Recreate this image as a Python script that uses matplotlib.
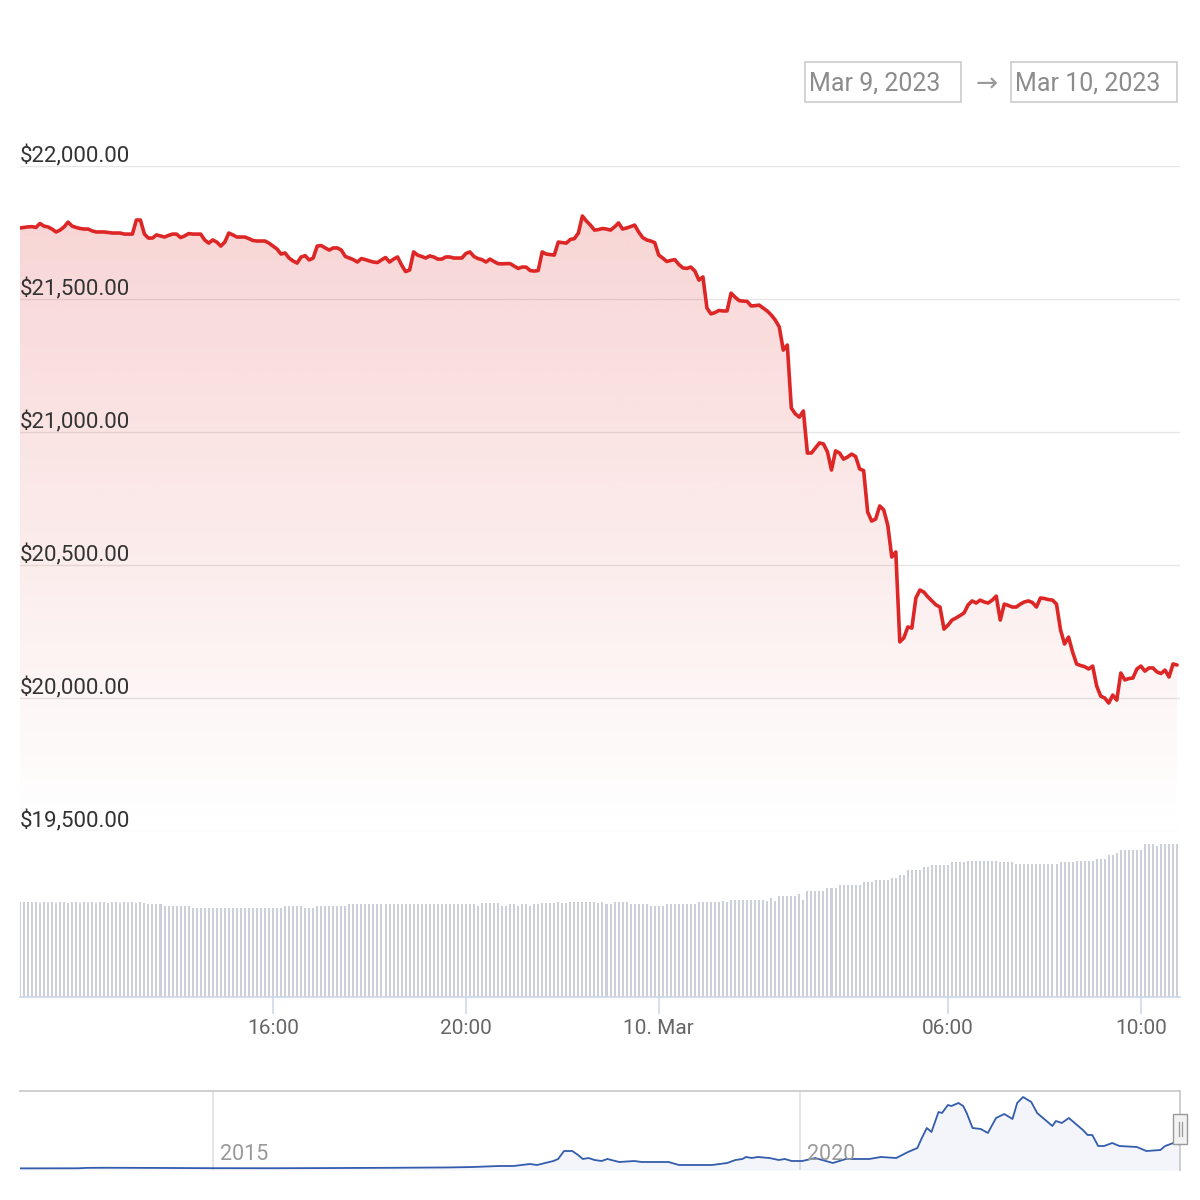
import matplotlib
matplotlib.use('Agg')
import matplotlib.pyplot as plt
import matplotlib.dates as mdates
from matplotlib.patches import Rectangle, Polygon
from matplotlib.lines import Line2D
import numpy as np
import pandas as pd

plt.rcParams['font.family'] = ['Roboto', 'DejaVu Sans']

# ---------------- data ----------------
start_time = '2023-03-09 10:45'
price = [
    21767, 21769, 21771, 21772, 21769, 21784, 21774, 21771, 21763, 21752,
    21759, 21771, 21789, 21774, 21769, 21765, 21763, 21763, 21756, 21752,
    21752, 21752, 21750, 21748, 21748, 21748, 21744, 21744, 21744, 21797,
    21797, 21744, 21729, 21729, 21741, 21737, 21733, 21739, 21744, 21744,
    21731, 21737, 21746, 21744, 21744, 21744, 21722, 21710, 21722, 21714,
    21699, 21714, 21748, 21741, 21733, 21733, 21733, 21727, 21720, 21718,
    21718, 21718, 21710, 21699, 21688, 21669, 21673, 21654, 21643, 21635,
    21658, 21663, 21647, 21654, 21699, 21701, 21692, 21684, 21692, 21692,
    21684, 21660, 21654, 21648, 21639, 21652, 21648, 21643, 21639, 21637,
    21647, 21656, 21639, 21650, 21658, 21628, 21603, 21609, 21677, 21665,
    21660, 21654, 21662, 21658, 21650, 21650, 21658, 21658, 21654, 21654,
    21654, 21671, 21677, 21660, 21652, 21648, 21639, 21650, 21641, 21633,
    21632, 21633, 21633, 21624, 21615, 21620, 21620, 21607, 21605, 21607,
    21677, 21669, 21667, 21665, 21714, 21712, 21710, 21724, 21727, 21748,
    21812, 21793, 21778, 21759, 21761, 21765, 21763, 21759, 21771, 21786,
    21763, 21767, 21772, 21778, 21752, 21731, 21722, 21718, 21712, 21665,
    21654, 21641, 21645, 21648, 21630, 21617, 21615, 21620, 21605, 21571,
    21583, 21466, 21444, 21449, 21457, 21455, 21455, 21522, 21507, 21494,
    21492, 21491, 21474, 21475, 21477, 21466, 21455, 21440, 21421, 21395,
    21308, 21327, 21090, 21068, 21056, 21079, 20921, 20921, 20940, 20959,
    20955, 20925, 20857, 20929, 20921, 20898, 20906, 20917, 20908, 20861,
    20855, 20699, 20665, 20673, 20722, 20707, 20650, 20530, 20549, 20211,
    20226, 20267, 20263, 20376, 20406, 20398, 20380, 20365, 20350, 20342,
    20259, 20274, 20293, 20301, 20310, 20320, 20350, 20365, 20357, 20368,
    20361, 20357, 20368, 20383, 20293, 20353, 20348, 20342, 20342, 20353,
    20361, 20365, 20359, 20342, 20376, 20374, 20370, 20368, 20353, 20256,
    20203, 20229, 20173, 20128, 20122, 20118, 20109, 20120, 20045, 20007,
    20000, 19981, 20011, 19992, 20094, 20068, 20073, 20075, 20109, 20120,
    20101, 20113, 20113, 20098, 20092, 20105, 20079, 20128, 20124,
]
volume = [
    28.6, 28.6, 28.4, 28.6, 28.6, 28.1, 28.6, 28.4, 28.6, 28.1,
    28.6, 28.4, 28.1, 28.6, 28.6, 28.1, 28.6, 28.6, 28.4, 28.1,
    28.6, 28.6, 28.1, 28.6, 28.4, 28.1, 28.6, 28.6, 28.4, 28.1,
    28.4, 28.1, 28.0, 28.0, 28.0, 28.0, 27.2, 27.2, 27.2, 27.2,
    27.2, 27.2, 27.2, 26.6, 26.6, 26.6, 26.6, 26.6, 26.6, 26.6,
    26.6, 26.6, 26.6, 26.6, 26.6, 26.6, 26.6, 26.6, 26.6, 26.6,
    26.6, 26.6, 26.6, 26.6, 26.6, 26.6, 27.2, 27.2, 27.2, 27.2,
    27.2, 26.7, 26.7, 26.7, 27.3, 27.3, 27.3, 27.3, 27.3, 27.3,
    27.3, 27.3, 27.8, 27.8, 27.8, 27.8, 27.8, 27.8, 27.8, 27.8,
    28.0, 28.0, 28.0, 28.0, 28.0, 28.0, 28.0, 28.0, 28.0, 28.0,
    28.0, 28.0, 28.0, 28.0, 28.0, 28.0, 28.0, 28.0, 28.0, 28.0,
    28.0, 28.0, 28.0, 28.0, 27.3, 28.1, 28.1, 28.1, 28.1, 28.1,
    27.3, 27.3, 27.9, 27.9, 27.3, 27.9, 27.9, 27.3, 27.9, 27.9,
    28.2, 28.2, 28.2, 28.2, 28.6, 28.2, 28.2, 28.6, 28.4, 28.6,
    28.6, 28.6, 28.6, 28.6, 28.2, 28.6, 27.9, 27.9, 28.6, 28.6,
    28.6, 28.6, 27.9, 27.9, 27.9, 27.9, 27.9, 27.3, 27.3, 27.3,
    27.3, 27.9, 27.9, 27.9, 27.9, 27.9, 27.9, 27.9, 27.9, 28.5,
    28.5, 28.5, 28.5, 28.5, 28.5, 28.8, 28.4, 29.1, 29.1, 29.1,
    29.1, 29.1, 29.1, 29.1, 29.1, 29.1, 28.9, 29.6, 28.9, 30.3,
    30.3, 30.3, 30.3, 30.3, 30.9, 29.1, 31.9, 31.9, 31.9, 31.9,
    31.9, 32.6, 32.6, 32.6, 33.6, 33.6, 33.6, 33.6, 33.6, 33.6,
    34.6, 34.6, 34.6, 35.1, 35.1, 35.1, 35.1, 35.7, 35.7, 36.6,
    36.6, 38.1, 38.1, 38.1, 38.1, 39.1, 39.1, 39.6, 39.6, 39.6,
    39.6, 39.6, 40.6, 40.6, 40.6, 40.6, 40.9, 40.9, 40.9, 40.9,
    40.9, 40.9, 40.9, 40.9, 40.4, 40.4, 40.4, 40.4, 39.9, 39.9,
    39.9, 39.9, 39.9, 39.9, 39.9, 39.9, 39.9, 39.9, 39.9, 40.4,
    40.4, 40.4, 40.4, 40.9, 40.9, 40.9, 40.9, 40.9, 41.4, 41.4,
    41.4, 42.6, 42.6, 43.3, 44.1, 44.1, 44.1, 44.1, 44.1, 44.1,
    45.9, 45.9, 45.9, 45.3, 45.9, 45.9, 45.9, 45.9, 45.9,
]
assert len(price) == len(volume) == 289

price_ticks = [19500, 20000, 20500, 21000, 21500, 22000]
price_tick_labels = ['$19,500.00', '$20,000.00', '$20,500.00',
                     '$21,000.00', '$21,500.00', '$22,000.00']
time_ticks = ['2023-03-09 16:00', '2023-03-09 20:00', '2023-03-10 00:00',
              '2023-03-10 06:00', '2023-03-10 10:00']
time_tick_labels = ['16:00', '20:00', '10. Mar', '06:00', '10:00']
date_from = 'Mar 9, 2023'
date_to = 'Mar 10, 2023'

nav_years = [2013.33, 2013.85, 2013.93, 2014.1, 2014.5, 2015.0, 2015.5, 2016.0, 2016.5, 2017.0,
             2017.21, 2017.44, 2017.56, 2017.70, 2017.76, 2017.83, 2017.90, 2017.94, 2017.99, 2018.06,
             2018.11, 2018.15, 2018.20, 2018.25, 2018.31, 2018.36, 2018.46, 2018.59, 2018.65, 2018.88,
             2018.97, 2019.25, 2019.38, 2019.45, 2019.51, 2019.54, 2019.59, 2019.64, 2019.74, 2019.82,
             2019.87, 2019.93, 2020.02, 2020.13, 2020.28, 2020.39, 2020.59, 2020.69, 2020.82, 2020.92,
             2021.00, 2021.03, 2021.08, 2021.12, 2021.18, 2021.21, 2021.26, 2021.29, 2021.35, 2021.39,
             2021.42, 2021.47, 2021.54, 2021.60, 2021.67, 2021.74, 2021.81, 2021.85, 2021.90, 2021.97,
             2022.02, 2022.06, 2022.15, 2022.18, 2022.23, 2022.29, 2022.34, 2022.41, 2022.45, 2022.49,
             2022.54, 2022.59, 2022.66, 2022.72, 2022.87, 2022.95, 2023.07, 2023.11, 2023.18, 2023.24]
nav_prices = [120, 200, 600, 700, 550, 300, 250, 430, 650, 1000,
              1400, 2360, 2360, 4250, 3300, 5200, 7080, 8970, 16520, 16520,
              12740, 8970, 9900, 8020, 7080, 8970, 6140, 7080, 6140, 6140,
              3300, 3300, 5200, 8020, 8970, 10860, 9900, 10860, 9900, 8020,
              8970, 7080, 7080, 9900, 5200, 8970, 8970, 10860, 9900, 15580,
              19350, 26900, 38230, 34460, 53340, 52390, 59940, 59000, 61830, 59000,
              52390, 38230, 37290, 33510, 47670, 51450, 46730, 61830, 67500, 62780,
              52390, 48620, 40120, 44840, 42950, 47670, 42950, 36340, 31620, 31620,
              21240, 21240, 24070, 21240, 20300, 16520, 17460, 21240, 24070, 22500]
nav_ticks = [2015, 2020]
nav_tick_labels = ['2015', '2020']

# ---------------- layout helpers ----------------
W = H = 1200
fig = plt.figure(figsize=(12, 12), dpi=100)
fig.patch.set_facecolor('white')


def rect(x0, y0, x1, y1):
    return [x0 / W, 1 - y1 / H, (x1 - x0) / W, (y1 - y0) / H]


def fx(px):
    return px / W


def fy(py):
    return 1 - py / H


times = pd.date_range(start_time, periods=len(price), freq='5min')
tn = mdates.date2num(times)
xlim = (mdates.date2num(pd.Timestamp('2023-03-09 10:45:10')),
        mdates.date2num(pd.Timestamp('2023-03-10 10:48:40')))

LINE = '#dd2626'

# ---------------- price pane ----------------
ax = fig.add_axes(rect(20, 166, 1180, 831))
ax.set_xlim(*xlim)
ax.set_ylim(19500, 22000)
for s in ax.spines.values():
    s.set_visible(False)
ax.set_xticks([])
ax.set_yticks([])
for p in price_ticks:
    ax.axhline(p, color='#e6e6e6', lw=1.0, zorder=0)

verts = np.column_stack([np.r_[tn, tn[::-1]],
                         np.r_[price, np.full(len(price), 19500.0)]])
clip = Polygon(verts, closed=True, facecolor='none', edgecolor='none')
ax.add_patch(clip)
grad = np.zeros((256, 1, 4))
grad[..., 0] = 220 / 255
grad[..., 1] = 38 / 255
grad[..., 2] = 38 / 255
grad[:, 0, 3] = np.linspace(0.0, 0.21, 256)
im = ax.imshow(grad, aspect='auto', origin='lower', interpolation='bilinear',
               extent=[tn[0], tn[-1], 19500, 22000], zorder=1)
im.set_clip_path(clip)
ax.plot(times, price, color=LINE, lw=2.6, solid_joinstyle='round',
        solid_capstyle='round', zorder=3)
ax.set_xlim(*xlim)
ax.set_ylim(19500, 22000)

for p, lab in zip(price_ticks, price_tick_labels):
    ax.annotate(lab, xy=(0, p), xycoords=('axes fraction', 'data'),
                xytext=(0, 6.6), textcoords='offset points',
                ha='left', va='center', fontsize=16, color='#333333',
                annotation_clip=False, zorder=5)

# ---------------- volume pane ----------------
axv = fig.add_axes(rect(20, 836, 1180, 997))
axv.bar(times, volume, width=0.5 / 288, color='#cdd0da', align='center',
        linewidth=0, antialiased=False)
axv.set_xlim(*xlim)
axv.set_ylim(0, 48.3)
for k in ['top', 'right', 'left']:
    axv.spines[k].set_visible(False)
axv.spines['bottom'].set_color('#ccd6eb')
axv.spines['bottom'].set_linewidth(1.2)
axv.set_yticks([])
axv.set_xticks([mdates.date2num(pd.Timestamp(t)) for t in time_ticks])
axv.set_xticklabels(time_tick_labels)
axv.tick_params(axis='x', length=12, width=1.1, color='#ccd6eb',
                labelsize=15, labelcolor='#666666', pad=3.5)

# ---------------- navigator ----------------
axn = fig.add_axes(rect(20, 1091, 1180, 1170))
axn.set_xlim(2013.356, 2023.237)
axn.set_ylim(-1416, 73160)
for k in ['right', 'left', 'bottom']:
    axn.spines[k].set_visible(False)
axn.spines['top'].set_color('#cccccc')
axn.spines['top'].set_linewidth(1.3)
axn.set_xticks([])
axn.set_yticks([])
for yr in nav_ticks:
    axn.axvline(yr, color='#e0e0e0', lw=1.2, zorder=0)
axn.fill_between(nav_years, nav_prices, -1416, color='#335cad', alpha=0.06,
                 linewidth=0, zorder=1)
axn.plot(nav_years, nav_prices, color='#335cad', lw=1.3, zorder=2)
for yr, lab in zip(nav_ticks, nav_tick_labels):
    axn.annotate(lab, xy=(yr, 0.2), xycoords=('data', 'axes fraction'),
                 xytext=(5, 0), textcoords='offset points', ha='left',
                 va='center', fontsize=15.5, color='#999999', zorder=3)

# right edge of navigator outline
fig.add_artist(Line2D([fx(1180), fx(1180)], [fy(1091), fy(1170)],
                      color='#cccccc', lw=1.3, transform=fig.transFigure))
# handle
fig.add_artist(Rectangle((fx(1173), fy(1144)), fx(14), 30 / H,
                         facecolor='#f2f2f2', edgecolor='#999999', lw=1.0,
                         transform=fig.transFigure, zorder=10))
for hx in (1178.5, 1181.5):
    fig.add_artist(Line2D([fx(hx), fx(hx)], [fy(1122), fy(1136)],
                          color='#999999', lw=0.9,
                          transform=fig.transFigure, zorder=11))

# ---------------- date range boxes ----------------
for (x0, x1), txt in (((805, 961), date_from), ((1011, 1177), date_to)):
    fig.add_artist(Rectangle((fx(x0), fy(102)), (x1 - x0) / W, 40 / H,
                             facecolor='white', edgecolor='#cccccc', lw=1.2,
                             transform=fig.transFigure))
    fig.text(fx(x0 + 4), fy(83.5), txt, ha='left', va='center',
             fontsize=18, color='#8c8c8c')
fig.text(fx(987), fy(85), '\u2192', ha='center', va='center',
         fontsize=19, color='#999999')

fig.savefig('out.png', dpi=100, facecolor='white')
